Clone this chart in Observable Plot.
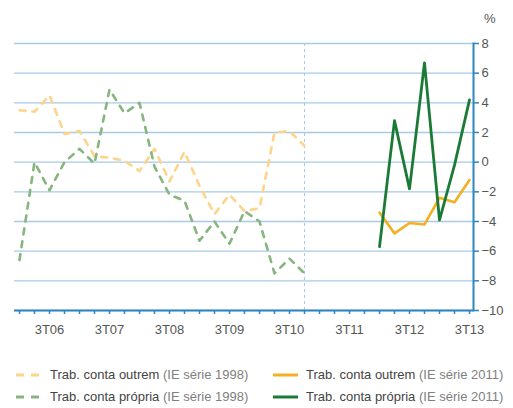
<!DOCTYPE html>
<html>
<head>
<meta charset="utf-8">
<script src="https://cdn.jsdelivr.net/npm/d3@7"></script>
<script src="https://cdn.jsdelivr.net/npm/@observablehq/plot@0.6"></script>
<style>
  body { margin: 0; background: #fff; font-family: "Liberation Sans", Arial, sans-serif; }
  #chart { width: 513px; }
  .legend { position: relative; height: 58px; font-size: 13px; color: #444; }
  .item { position: absolute; display: flex; align-items: center; white-space: nowrap; }
  .item svg { margin-right: 8px; }
  .muted { color: #808080; }
</style>
</head>
<body>
<div id="chart"></div>
<script>
// Quarters (x categories)
const quarters = ["1T06","2T06","3T06","4T06","1T07","2T07","3T07","4T07","1T08","2T08","3T08","4T08",
  "1T09","2T09","3T09","4T09","1T10","2T10","3T10","4T10","1T11","2T11","3T11","4T11",
  "1T12","2T12","3T12","4T12","1T13","2T13","3T13"];
// IE série 1998: 1T06..4T10
const quarters1998 = ["1T06","2T06","3T06","4T06","1T07","2T07","3T07","4T07","1T08","2T08","3T08","4T08",
  "1T09","2T09","3T09","4T09","1T10","2T10","3T10","4T10"];
const outrem1998 = [3.5, 3.4, 4.5, 1.9, 2.1, 0.4, 0.3, 0.1, -0.6, 0.9, -1.3, 0.7, -1.6, -3.5, -2.2, -3.3, -3.1, 2.0, 2.1, 1.1];
const propria1998 = [-6.6, 0.0, -1.9, 0.0, 0.9, -0.1, 4.9, 3.3, 4.0, -0.3, -2.2, -2.6, -5.3, -4.0, -5.5, -3.3, -4.0, -7.5, -6.5, -7.5];
// IE série 2011: 1T12..3T13
const quarters2011 = ["1T12","2T12","3T12","4T12","1T13","2T13","3T13"];
const outrem2011 = [-3.4, -4.8, -4.1, -4.2, -2.4, -2.7, -1.2];
const propria2011 = [-5.7, 2.8, -1.8, 6.7, -3.9, -0.2, 4.2];
// Y ticks
const yTicks = [-10, -8, -6, -4, -2, 0, 2, 4, 6, 8];
const breakQuarter = ["4T10"];

const seriesNames = [
  "Trab. conta outrem (IE série 1998)",
  "Trab. conta outrem (IE série 2011)",
  "Trab. conta própria (IE série 1998)",
  "Trab. conta própria (IE série 2011)"
];

const toRows = (qs, vs) => qs.map((q, i) => ({q, v: vs[i]}));
const rOut98 = toRows(quarters1998, outrem1998);
const rPro98 = toRows(quarters1998, propria1998);
const rOut11 = toRows(quarters2011, outrem2011);
const rPro11 = toRows(quarters2011, propria2011);

const C = {
  out98: "#FDD48A", pro98: "#86B57E", out11: "#F5B021", pro11: "#1B7A36",
  grid: "#A7CAE8", axis: "#2E86C1", text: "#555"
};

const chart = Plot.plot({
  width: 513,
  height: 350,
  marginLeft: 14,
  marginRight: 40,
  marginTop: 43,
  marginBottom: 40,
  style: {fontFamily: "'Liberation Sans', Arial, sans-serif", fontSize: "13px", color: C.text, background: "#fff"},
  x: {type: "point", domain: quarters, padding: 0, label: null},
  y: {domain: [-10, 8], label: null},
  marks: [
    Plot.gridY(yTicks, {stroke: C.grid, strokeOpacity: 1, strokeWidth: 1.3}),
    Plot.ruleX(breakQuarter, {stroke: C.grid, strokeDasharray: "3,3", strokeWidth: 1}),
    Plot.ruleY([-10], {stroke: C.axis, strokeWidth: 2}),
    Plot.frame({anchor: "right", stroke: C.axis, strokeWidth: 2}),
    Plot.axisX({
      ticks: quarters, tickSize: 4, tickPadding: 10, stroke: C.axis, strokeWidth: 1.5, label: null,
      tickFormat: d => d.startsWith("3T") ? d : "", fill: C.text, fontSize: 13
    }),
    Plot.axisY({
      anchor: "right", ticks: yTicks, tickSize: 5, tickPadding: 3, stroke: C.axis, strokeWidth: 1.5,
      fill: C.text, fontSize: 13, label: null
    }),
    Plot.text(["%"], {frameAnchor: "top-right", dx: 22, dy: -30, fill: C.text, fontSize: 13, textAnchor: "end"}),
    Plot.line(rOut98, {x: "q", y: "v", stroke: C.out98, strokeWidth: 2.6, strokeDasharray: "6,7"}),
    Plot.line(rPro98, {x: "q", y: "v", stroke: C.pro98, strokeWidth: 2.6, strokeDasharray: "6,7"}),
    Plot.line(rOut11, {x: "q", y: "v", stroke: C.out11, strokeWidth: 2.6}),
    Plot.line(rPro11, {x: "q", y: "v", stroke: C.pro11, strokeWidth: 2.8})
  ]
});
document.getElementById("chart").appendChild(chart);

// Legend below the chart
const legend = document.createElement("div");
legend.className = "legend";
const specs = [
  {name: seriesNames[0], color: C.out98, dash: true, left: 16, top: 17},
  {name: seriesNames[1], color: C.out11, dash: false, left: 273, top: 17},
  {name: seriesNames[2], color: C.pro98, dash: true, left: 16, top: 39},
  {name: seriesNames[3], color: C.pro11, dash: false, left: 273, top: 39}
];
for (const s of specs) {
  const it = document.createElement("div");
  it.className = "item";
  it.style.left = s.left + "px";
  it.style.top = s.top + "px";
  const w = s.dash ? 26 : 25;
  it.innerHTML = `<svg width="${w}" height="14"><line x1="0" x2="${w}" y1="7" y2="7" stroke="${s.color}" stroke-width="3" ${s.dash ? 'stroke-dasharray="8,7"' : ''}/></svg>`;
  const m = s.name.match(/^(.*?)(\(.*\))$/);
  const span = document.createElement("span");
  span.innerHTML = `${m[1]}<span class="muted">${m[2]}</span>`;
  it.appendChild(span);
  legend.appendChild(it);
}
document.getElementById("chart").appendChild(legend);
</script>
</body>
</html>
